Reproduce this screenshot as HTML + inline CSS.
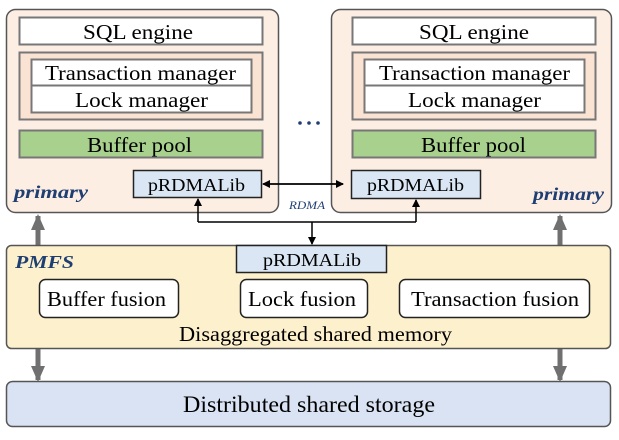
<!DOCTYPE html>
<html><head><style>
body{margin:0;background:#fff;}
svg text{font-family:"Liberation Serif",serif;}
</style></head><body>
<svg width="619" height="435" viewBox="0 0 619 435" xmlns="http://www.w3.org/2000/svg">
<defs>
<marker id="ah" markerWidth="8" markerHeight="8" refX="7" refY="4" orient="auto" markerUnits="userSpaceOnUse"><path d="M0,0 L8,4 L0,8 z" fill="#000"/></marker>
<marker id="gh" markerWidth="16" markerHeight="14" refX="14" refY="7" orient="auto" markerUnits="userSpaceOnUse"><path d="M0,0 L16,7 L0,14 z" fill="#707070"/></marker>
</defs>
<line x1="38" y1="245" x2="38" y2="216" stroke="#707070" stroke-width="5" marker-end="url(#gh)"/>
<line x1="560" y1="245" x2="560" y2="216" stroke="#707070" stroke-width="5" marker-end="url(#gh)"/>
<line x1="38" y1="349" x2="38" y2="380" stroke="#707070" stroke-width="5" marker-end="url(#gh)"/>
<line x1="560" y1="349" x2="560" y2="380" stroke="#707070" stroke-width="5" marker-end="url(#gh)"/>
<!-- left primary -->
<rect x="6.5" y="9.5" width="272" height="203" rx="9" fill="#fdeee4" stroke="#555" stroke-width="1.5"/>
<rect x="19.5" y="17.5" width="243" height="27" fill="#fff" stroke="#777" stroke-width="2"/>
<text x="83" y="39" font-size="21" textLength="110" lengthAdjust="spacingAndGlyphs">SQL engine</text>
<rect x="19.5" y="52.5" width="243" height="67" fill="#fbe3d4" stroke="#777" stroke-width="2"/>
<rect x="31.5" y="59.5" width="220" height="26" fill="#fff" stroke="#777" stroke-width="2"/>
<rect x="31.5" y="85.5" width="220" height="27" fill="#fff" stroke="#777" stroke-width="2"/>
<text x="45" y="80" font-size="21" textLength="191" lengthAdjust="spacingAndGlyphs">Transaction manager</text>
<text x="75" y="107" font-size="21" textLength="133" lengthAdjust="spacingAndGlyphs">Lock manager</text>
<rect x="19.5" y="130.5" width="243" height="27" fill="#a9d18e" stroke="#777" stroke-width="2"/>
<text x="87" y="152" font-size="21" textLength="105" lengthAdjust="spacingAndGlyphs">Buffer pool</text>
<rect x="133.5" y="170.5" width="128" height="27" fill="#dae6f3" stroke="#222" stroke-width="1.5"/>
<text x="148" y="191" font-size="18" textLength="97" lengthAdjust="spacingAndGlyphs">pRDMALib</text>
<text x="14" y="198" font-size="18" font-style="italic" font-weight="bold" fill="#1f3f73" textLength="74" lengthAdjust="spacingAndGlyphs">primary</text>
<!-- right primary -->
<rect x="331.5" y="9.5" width="280" height="203" rx="9" fill="#fdeee4" stroke="#555" stroke-width="1.5"/>
<rect x="352.5" y="17.5" width="243" height="27" fill="#fff" stroke="#777" stroke-width="2"/>
<text x="419" y="39" font-size="21" textLength="110" lengthAdjust="spacingAndGlyphs">SQL engine</text>
<rect x="352.5" y="52.5" width="243" height="67" fill="#fbe3d4" stroke="#777" stroke-width="2"/>
<rect x="364.5" y="59.5" width="220" height="26" fill="#fff" stroke="#777" stroke-width="2"/>
<rect x="364.5" y="85.5" width="220" height="27" fill="#fff" stroke="#777" stroke-width="2"/>
<text x="379" y="80" font-size="21" textLength="191" lengthAdjust="spacingAndGlyphs">Transaction manager</text>
<text x="408" y="107" font-size="21" textLength="133" lengthAdjust="spacingAndGlyphs">Lock manager</text>
<rect x="352.5" y="130.5" width="243" height="27" fill="#a9d18e" stroke="#777" stroke-width="2"/>
<text x="421" y="152" font-size="21" textLength="105" lengthAdjust="spacingAndGlyphs">Buffer pool</text>
<rect x="351.5" y="170.5" width="129" height="28" fill="#dae6f3" stroke="#222" stroke-width="1.5"/>
<text x="367" y="191" font-size="18" textLength="97" lengthAdjust="spacingAndGlyphs">pRDMALib</text>
<text x="533" y="200" font-size="18" font-style="italic" font-weight="bold" fill="#1f3f73" textLength="71" lengthAdjust="spacingAndGlyphs">primary</text>
<circle cx="300" cy="123" r="1.8" fill="#1f3f73"/><circle cx="309" cy="123" r="1.8" fill="#1f3f73"/><circle cx="318" cy="123" r="1.8" fill="#1f3f73"/>
<line x1="270" y1="184" x2="343" y2="184" stroke="#000" stroke-width="1.5" marker-end="url(#ah)"/>
<line x1="343" y1="184" x2="263" y2="184" stroke="#000" stroke-width="1.5" marker-end="url(#ah)"/>
<polyline points="198,222 416,222" fill="none" stroke="#000" stroke-width="1.5"/>
<line x1="198" y1="222" x2="198" y2="199" stroke="#000" stroke-width="1.5" marker-end="url(#ah)"/>
<line x1="416" y1="222" x2="416" y2="200" stroke="#000" stroke-width="1.5" marker-end="url(#ah)"/>
<line x1="312" y1="222" x2="312" y2="244" stroke="#000" stroke-width="1.5" marker-end="url(#ah)"/>
<text x="289" y="209" font-size="12" font-style="italic" fill="#1f3f73" textLength="36" lengthAdjust="spacingAndGlyphs">RDMA</text>
<!-- PMFS -->
<rect x="6.5" y="245.5" width="604" height="103" rx="5" fill="#fdf0cc" stroke="#555" stroke-width="1.5"/>
<rect x="236.5" y="245.5" width="150" height="27" fill="#dae6f3" stroke="#222" stroke-width="1.5"/>
<text x="263" y="266" font-size="18" textLength="98" lengthAdjust="spacingAndGlyphs">pRDMALib</text>
<text x="15" y="268" font-size="18" font-style="italic" font-weight="bold" fill="#1f3f73" textLength="59" lengthAdjust="spacingAndGlyphs">PMFS</text>
<rect x="39.5" y="279.5" width="139" height="38" rx="6" fill="#fff" stroke="#222" stroke-width="1.5"/>
<text x="47" y="306" font-size="21" textLength="119" lengthAdjust="spacingAndGlyphs">Buffer fusion</text>
<rect x="240.5" y="279.5" width="127" height="38" rx="6" fill="#fff" stroke="#222" stroke-width="1.5"/>
<text x="248" y="306" font-size="21" textLength="108" lengthAdjust="spacingAndGlyphs">Lock fusion</text>
<rect x="399.5" y="279.5" width="190" height="38" rx="6" fill="#fff" stroke="#222" stroke-width="1.5"/>
<text x="411" y="306" font-size="21" textLength="168" lengthAdjust="spacingAndGlyphs">Transaction fusion</text>
<text x="179" y="341" font-size="21" textLength="273" lengthAdjust="spacingAndGlyphs">Disaggregated shared memory</text>
<!-- storage -->
<rect x="6.5" y="381.5" width="604" height="45" rx="6" fill="#dae3f3" stroke="#555" stroke-width="1.5"/>
<text x="183" y="412" font-size="23" textLength="252" lengthAdjust="spacingAndGlyphs">Distributed shared storage</text>
</svg>
</body></html>
